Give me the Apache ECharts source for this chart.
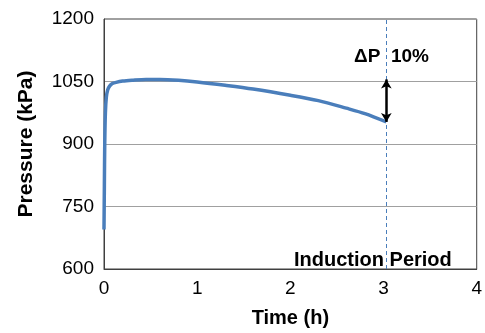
<!DOCTYPE html>
<html><head><meta charset="utf-8">
<script src="https://cdn.jsdelivr.net/npm/echarts@6/dist/echarts.min.js"></script>
<style>html,body{margin:0;padding:0;background:#fff}#c{width:485px;height:333px}</style>
</head><body><div id="c"></div>
<script>
const timeH = [0, 0.004, 0.008, 0.015, 0.025, 0.04, 0.06, 0.09, 0.13, 0.2, 0.3, 0.45, 0.6, 0.8, 1.0, 1.3, 1.6, 2.0, 2.3, 2.6, 2.8, 3.03];
const pressure = [695, 800, 900, 975, 1012, 1030, 1039, 1045, 1048, 1051, 1053, 1055, 1055, 1053, 1049, 1041, 1032, 1017, 1004, 986, 973, 953];
const inductionTime = 3.03;
const arrowRange = [1055, 953];
const xTicks = [0, 4, 1];
const yTicks = [600, 1200, 150];
const font = 'Liberation Sans, Arial, sans-serif';

const chart = echarts.init(document.getElementById('c'));
chart.setOption({
  animation: false,
  grid: {left: 104, right: 6, top: 19, bottom: 60, show: true, borderColor: '#404040', borderWidth: 1},
  xAxis: {
    type: 'value', min: xTicks[0], max: xTicks[1], interval: xTicks[2],
    name: 'Time (h)', nameLocation: 'middle', nameGap: 39,
    nameTextStyle: {fontFamily: font, fontWeight: 'bold', fontSize: 20, color: '#000'},
    axisLine: {lineStyle: {color: '#404040'}}, axisTick: {show: false},
    axisLabel: {fontFamily: font, fontSize: 19, color: '#000', margin: 10},
    splitLine: {show: false}
  },
  yAxis: {
    type: 'value', min: yTicks[0], max: yTicks[1], interval: yTicks[2],
    name: 'Pressure (kPa)', nameLocation: 'middle', nameGap: 67,
    nameTextStyle: {fontFamily: font, fontWeight: 'bold', fontSize: 21, color: '#000'},
    axisLine: {show: true, lineStyle: {color: '#404040'}}, axisTick: {show: false},
    axisLabel: {fontFamily: font, fontSize: 19, color: '#000', margin: 10, formatter: v => String(v)},
    splitLine: {lineStyle: {color: '#a0a0a0', width: 1}}
  },
  series: [{
    type: 'line',
    data: timeH.map((t, i) => [t, pressure[i]]),
    showSymbol: false, smooth: 0.3, z: 3,
    lineStyle: {color: '#4a7ebb', width: 3.5}
  }, {
    type: 'line', data: [], z: 2,
    markLine: {
      silent: true, symbol: 'none', label: {show: false},
      lineStyle: {color: '#4a7ebb', type: [4, 3], width: 1},
      data: [{xAxis: inductionTime}]
    }
  }, {
    type: 'line', data: [], z: 4,
    markLine: {
      silent: true, symbol: ['arrow', 'arrow'], symbolSize: [8, 9], label: {show: false},
      lineStyle: {color: '#000', type: 'solid', width: 2.5},
      data: [[{coord: [inductionTime, arrowRange[0]]}, {coord: [inductionTime, arrowRange[1]]}]]
    }
  }],
  graphic: [
    {type: 'text', left: 354, top: 47, style: {text: 'ΔP  10%', font: 'bold 19px ' + font, fill: '#000'}},
    {type: 'text', left: 294, top: 250, style: {text: 'Induction Period', font: 'bold 20px ' + font, fill: '#000'}}
  ]
});
</script></body></html>
